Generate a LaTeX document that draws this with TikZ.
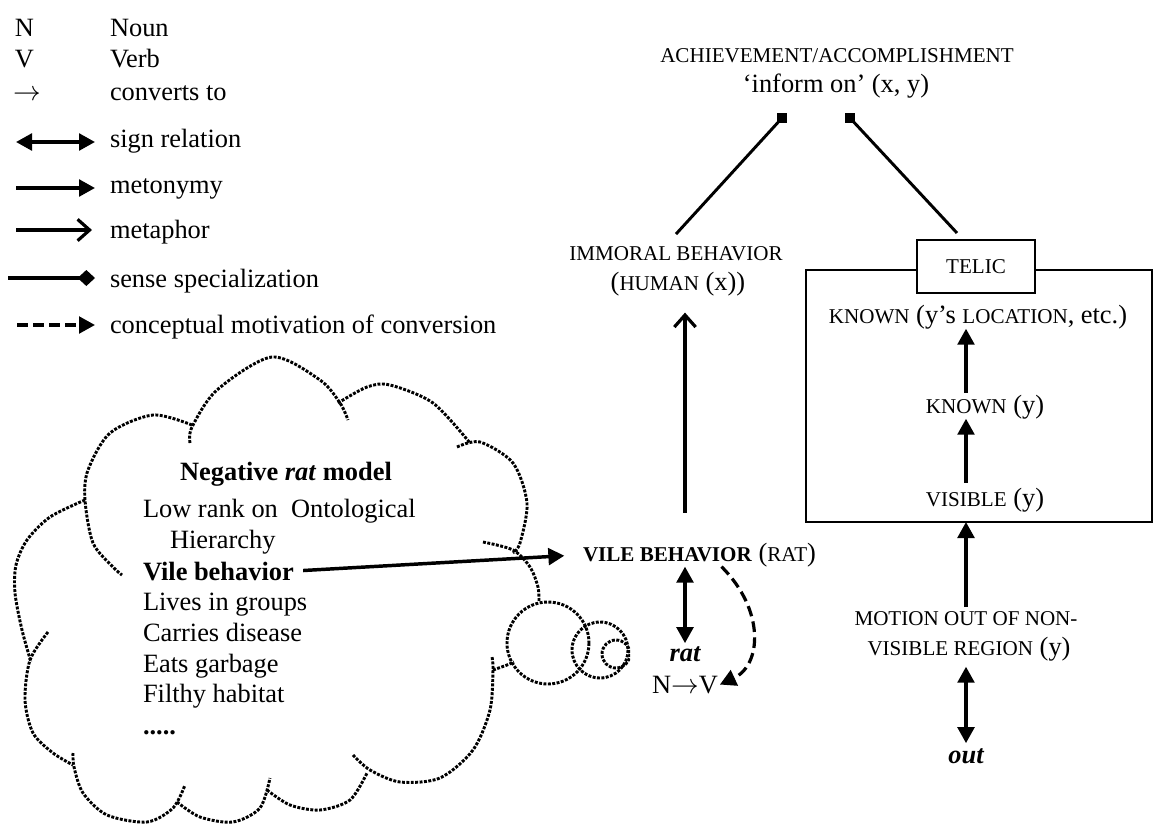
\documentclass[tikz,border=0pt]{standalone}
\usepackage{fontspec}
\setmainfont{Liberation Serif}
\usetikzlibrary{arrows.meta,calc}
\newcommand\SCs[1]{{\fontsize{15.8}{19}\selectfont #1}}
\begin{document}
\begin{tikzpicture}[x=0.75pt,y=-0.75pt,
  every node/.style={inner sep=0pt, outer sep=0pt, font=\fontsize{19.8}{23}\selectfont},
  txt/.style={anchor=base west},
  ctr/.style={anchor=base},
  tri/.tip={Triangle[length=12pt,width=12.5pt]},
  arr/.style={line width=2.6pt, -tri},
  darr/.style={line width=2.6pt, tri-tri},
  metarr/.style={line width=2.4pt, -{Straight Barb[length=9pt,width=16pt]}},
  spec/.style={line width=2.4pt, -{Diamond[length=13pt,width=12pt]}},
  dasharr/.style={line width=2.4pt, dash pattern=on 8pt off 4pt, -tri},
  conn/.style={line width=2.2pt},
  cloudln/.style={line width=2.2pt, dash pattern=on 2.2pt off 1.1pt},
  sq/.style={fill, minimum size=7.5pt, inner sep=0pt},
  ]
\useasboundingbox (0,0) rectangle (1154,826);

% ---------- legend ----------
\node[txt] (lN) at (15,36) {N};
\node[txt] (lNoun) at (110,36) {Noun};
\node[txt] (lV) at (15,67) {V};
\node[txt] (lVerb) at (110,67) {Verb};
\node[txt] (lto) at (13,100) {$\rightarrow$};
\node[txt] (lconv) at (110,100) {converts to};
\coordinate (s1a) at (16,142); \coordinate (s1b) at (95,142);
\draw[darr] (s1a) -- (s1b);
\node[txt] (lsign) at (110,147) {sign relation};
\coordinate (s2a) at (16,188); \coordinate (s2b) at (95,188);
\draw[arr] (s2a) -- (s2b);
\node[txt] (lmet) at (110,193) {metonymy};
\coordinate (s3a) at (16,230); \coordinate (s3b) at (92,230);
\draw[metarr] (s3a) -- (s3b);
\node[txt] (lmeta) at (110,238) {metaphor};
\coordinate (s4a) at (8,278); \coordinate (s4b) at (95,278);
\draw[spec] (s4a) -- (s4b);
\node[txt] (lspec) at (110,287) {sense specialization};
\coordinate (s5a) at (17,325); \coordinate (s5b) at (95,325);
\draw[dasharr] (s5a) -- (s5b);
\node[txt] (lconc) at (110,333) {conceptual motivation of conversion};

% ---------- cloud ----------
\draw[cloudln] plot[smooth] coordinates {(190,443) (192,427) (217,390) (272,357) (320,380) (340,403) (348,420)};
\draw[cloudln] plot[smooth] coordinates {(338,403) (367,387) (390,385) (433,403) (470,443)};
\draw[cloudln] plot[smooth] coordinates {(457,447) (480,442) (513,463) (527,503) (520,543) (513,553)};
\draw[cloudln] plot[smooth] coordinates {(483,542) (513,550) (530,567) (538,587) (539,602)};
\draw[cloudln] plot[smooth] coordinates {(192,425) (153,415) (110,433) (88,470) (85,500) (93,543) (113,567) (122,575)};
\draw[cloudln] plot[smooth] coordinates {(85,500) (50,517) (27,540) (16,565) (15,593) (22,630) (31,662)};
\draw[cloudln] plot[smooth] coordinates {(48,632) (30,660) (25,700) (33,733) (53,753) (73,765)};
\draw[cloudln] plot[smooth] coordinates {(73,753) (74,767) (83,793) (107,815) (147,822) (173,808) (185,785)};
\draw[cloudln] plot[smooth] coordinates {(177,802) (200,817) (233,822) (260,808) (270,778)};
\draw[cloudln] plot[smooth] coordinates {(267,790) (290,805) (320,810) (350,800) (367,773)};
\draw[cloudln] plot[smooth] coordinates {(353,755) (370,770) (400,782) (440,778) (473,750) (490,710) (493,670) (492,657)};
\draw[cloudln] plot[smooth] coordinates {(493,670) (507,665) (514,662)};
\begin{scope}
\clip (0,0) rectangle (630,826);
\draw[cloudln] (548,643) circle[radius=41];
\draw[cloudln] (600,650) circle[radius=28];
\draw[cloudln] (616,654) circle[radius=14];
\end{scope}

\node[ctr] (neg) at (286,480) {\bfseries Negative \textit{rat} model};
\node[txt] (low) at (143,517) {Low rank on\ \ Ontological};
\node[txt] (hier) at (170,548) {Hierarchy};
\node[txt] (vile) at (143,580) {\bfseries Vile behavior};
\node[txt] (lives) at (143,610) {Lives in groups};
\node[txt] (carr) at (143,641) {Carries disease};
\node[txt] (eats) at (143,672) {Eats garbage};
\node[txt] (filthy) at (143,702) {Filthy habitat};
\node[txt] (dots) at (143,734) {\bfseries .....};

% ---------- right part ----------
\node[ctr] (ach) at (837,62) {\SCs{ACHIEVEMENT/ACCOMPLISHMENT}};
\node[ctr] (inf) at (836,92) {‘inform on’ (x, y)};
\node[sq] (sqL) at (782,118) {};
\node[sq] (sqR) at (850,118) {};

\node[ctr] (imm1) at (676,260) {\SCs{IMMORAL BEHAVIOR}};
\node[ctr] (imm2) at (678,290) {(\SCs{HUMAN} (x))};
\node[anchor=base west] (vileB) at (583,561) {\textbf{\SCs{VILE BEHAVIOR}} (\SCs{RAT})};
\node[ctr] (rat) at (685,661) {\bfseries\itshape rat};
\node[ctr] (nv) at (685,693) {N$\rightarrow$V};

\node[draw, line width=1.5pt, minimum width=259.5pt, minimum height=189pt] (frame) at (979,396) {};
\node[draw, fill=white, line width=1.5pt, minimum width=88.5pt, minimum height=39.75pt] (telic) at (976,266.5) {\SCs{TELIC}};
\node[ctr] (kloc) at (978,323) {\SCs{KNOWN} (y’s \SCs{LOCATION}, etc.)};
\node[ctr] (ky) at (985,413) {\SCs{KNOWN} (y)};
\node[ctr] (vis) at (985,506) {\SCs{VISIBLE} (y)};
\node[ctr] (mot1) at (966,625) {\SCs{MOTION OUT OF NON-}};
\node[ctr] (mot2) at (969,655) {\SCs{VISIBLE REGION} (y)};
\node[ctr] (out) at (966,763) {\bfseries\itshape out};

% connectors
\draw[conn] (sqL.center) -- ($(imm1.north)+(0,-12)$);
\draw[conn] (sqR.center) -- ($(telic.north)+(-19,-7)$);
\draw[metarr] ($(rat |- vileB.north)+(0,-30)$) -- ($(rat |- imm2.south)+(0,17)$);
\draw[darr] (vileB.south -| rat) -- ($(rat.north)+(0,-3)$);
\draw[dasharr] ($(vileB.south)+(22,0)$) .. controls (765,610) and (762,665) .. ($(nv.east)+(2,0)$);
\draw[arr, shorten <=7pt, shorten >=14pt] (vile.east) -- (vileB.west);
\draw[arr] ($(mot1.north)+(0,-4)$) -- (frame.south -| mot1);
\draw[arr] ($(vis.north -| out)+(0,-5)$) -- (ky.south -| out);
\draw[arr] ($(ky.north -| out)+(0,-2)$) -- (kloc.south -| out);
\draw[darr] ($(mot2.south -| out)+(0,6)$) -- ($(out.north)+(0,-5)$);
\end{tikzpicture}
\end{document}
